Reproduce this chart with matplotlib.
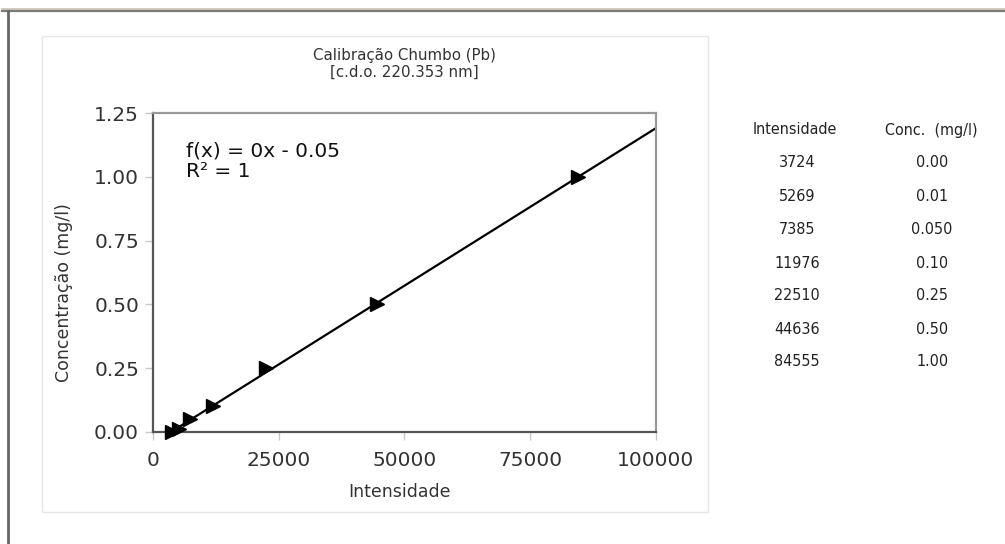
import numpy as np
import matplotlib
matplotlib.use("Agg")
import matplotlib.pyplot as plt
from matplotlib.patches import Rectangle
from matplotlib.lines import Line2D

intensidade = [3724, 5269, 7385, 11976, 22510, 44636, 84555]
conc = [0.00, 0.01, 0.05, 0.10, 0.25, 0.50, 1.00]
conc_labels = ["0.00", "0.01", "0.050", "0.10", "0.25", "0.50", "1.00"]
x_ticks = [0, 25000, 50000, 75000, 100000]
y_ticks = [0.00, 0.25, 0.50, 0.75, 1.00, 1.25]
title = "Calibração Chumbo (Pb)\n[c.d.o. 220.353 nm]"
equation = "f(x) = 0x - 0.05\nR² = 1"

W, H = 1005, 544
fig = plt.figure(figsize=(W / 100, H / 100), dpi=100)
fig.patch.set_facecolor("white")

def fx(px):
    return px / W

def fy(py):
    return 1 - py / H

# outer window frame
fig.add_artist(Line2D([fx(2), 1], [fy(9), fy(9)], color="#c8c2b4", lw=1.2))
fig.add_artist(Line2D([fx(2), 1], [fy(11), fy(11)], color="#7a7a7a", lw=1.6))
fig.add_artist(Line2D([fx(8), fx(8)], [fy(11), 0], color="#666666", lw=2.0))

# chart panel
panel = Rectangle((fx(41.7), fy(512)), fx(708) - fx(41.7), fy(36) - fy(512),
                  facecolor="white", edgecolor="#e6e6e6", lw=1.0, zorder=-10)
fig.add_artist(panel)

ax = fig.add_axes([fx(153), fy(431.7), fx(655.7) - fx(153), fy(113.3) - fy(431.7)])
ax.set_zorder(5)
ax.set_xlim(0, 100000)
ax.set_ylim(0, 1.25)

# trend line (least squares)
slope, intercept = np.polyfit(intensidade, conc, 1)
xl = np.array([0, 100000])
ax.plot(xl, slope * xl + intercept, color="black", lw=1.6, zorder=2)
ax.plot(intensidade, conc, linestyle="none", marker=">", color="black",
        markersize=10, zorder=3, clip_on=False)

ax.set_xticks(x_ticks)
ax.set_xticklabels([str(v) for v in x_ticks])
ax.set_yticks(y_ticks)
ax.set_yticklabels([f"{v:.2f}" for v in y_ticks])
ax.tick_params(direction="out", length=6, width=1, color="#c8c8c8",
               labelsize=14.5, labelcolor="#333333")
ax.tick_params(axis="x", pad=8)
ax.tick_params(axis="y", pad=4)
for s in ["left", "bottom"]:
    ax.spines[s].set_color("#555555")
    ax.spines[s].set_linewidth(1.6)
for s in ["top", "right"]:
    ax.spines[s].set_color("#999999")
    ax.spines[s].set_linewidth(1.6)

ax.text(0.066, 0.91, equation, transform=ax.transAxes, fontsize=14.5,
        color="#111111", va="top", ha="left", linespacing=1.1)

fig.text(fx(404), fy(64), title, ha="center", va="center", fontsize=10.8,
         color="#333333", linespacing=1.15)
fig.text(fx(399), fy(492), "Intensidade", ha="center", va="center",
         fontsize=12.5, color="#333333")
fig.text(fx(64), fy(293), "Concentração (mg/l)", ha="center", va="center",
         rotation=90, fontsize=12.5, color="#333333")

# data table
tkw = dict(ha="center", va="center", fontsize=11.5, color="#222222",
           fontstretch="condensed")
fig.text(fx(795), fy(130), "Intensidade", **tkw)
fig.text(fx(931), fy(130), "Conc.  (mg/l)", **tkw)
rows_y = [163, 197, 229, 263, 296, 329, 362]
for yy, xi, cl in zip(rows_y, intensidade, conc_labels):
    fig.text(fx(797), fy(yy), str(xi), **tkw)
    fig.text(fx(932), fy(yy), cl, **tkw)

fig.savefig("out.png", dpi=100)
